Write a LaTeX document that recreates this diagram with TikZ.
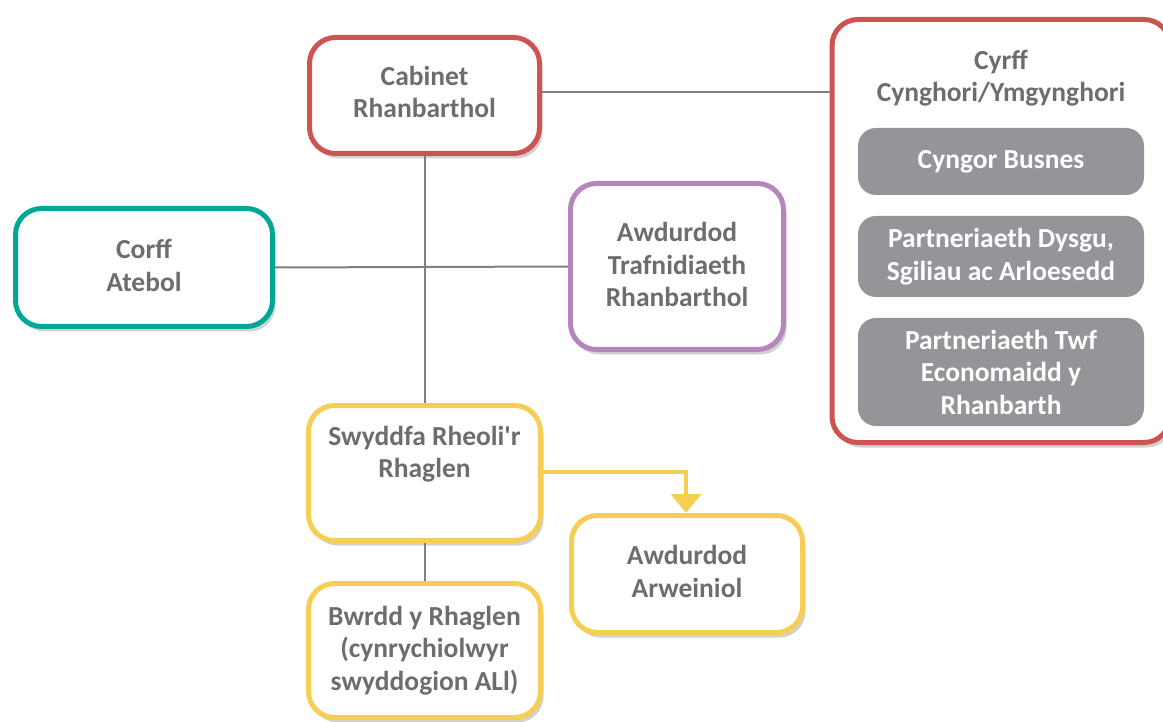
\documentclass[tikz,border=0pt]{standalone}
\usepackage{fontspec}
\setmainfont{Carlito}
\usetikzlibrary{arrows.meta,shadows}
\definecolor{org_red}{RGB}{205, 84, 80}
\definecolor{org_teal}{RGB}{0, 166, 152}
\definecolor{org_purple}{RGB}{180, 134, 188}
\definecolor{org_yellow}{RGB}{246, 206, 84}
\definecolor{org_grey}{RGB}{148, 149, 153}
\definecolor{org_text}{RGB}{108, 109, 112}
\definecolor{org_line}{RGB}{128, 128, 130}
\tikzstyle{box}=[rectangle,rounded corners=26pt,fill=white,line width=5pt,
  text=org_text,font=\fontsize{27.5}{32.5}\selectfont\bfseries,align=center,
  drop shadow={shadow xshift=3pt,shadow yshift=-5pt,opacity=0.18,fill=black}]
\tikzstyle{rbox}=[box,draw=org_red]
\tikzstyle{tbox}=[box,draw=org_teal]
\tikzstyle{pbox}=[box,draw=org_purple]
\tikzstyle{ybox}=[box,draw=org_yellow]
\tikzstyle{gbox}=[rectangle,rounded corners=18pt,fill=org_grey,text=white,
  font=\fontsize{27.5}{32.5}\selectfont\bfseries,align=center,minimum width=286pt]
\tikzstyle{txt}=[text=org_text,font=\fontsize{27.5}{32.5}\selectfont\bfseries,align=center]
\tikzstyle{conn}=[draw=org_line,line width=2pt]

\begin{document}
\begin{tikzpicture}[x=1pt, y=-1pt]
    \useasboundingbox (0, 0) rectangle (1163, 722);
    \node [style=rbox, minimum width=230pt, minimum height=116pt] (cab) at (424.5, 95.5) {};
    \node [style=txt] (cabtxt) at (424.5, 92) {Cabinet\\Rhanbarthol};
    \node [style=rbox, minimum width=338pt, minimum height=423pt] (cyrff) at (1001, 231) {};
    \node [style=txt] (cyrfftitle) at (1001, 78) {Cyrff\\Cynghori/Ymgynghori};
    \node [style=gbox, minimum height=67pt] (busnes) at (1001, 161.5) {Cyngor Busnes};
    \node [style=gbox, minimum height=81pt] (dysgu) at (1001, 256.5) {Partneriaeth Dysgu,\\Sgiliau ac Arloesedd};
    \node [style=gbox, minimum height=108pt] (twf) at (1001, 372) {Partneriaeth Twf\\Economaidd y\\Rhanbarth};
    \node [style=tbox, minimum width=257pt, minimum height=118pt] (corff) at (144, 267.5) {};
    \node [style=txt] (corfftxt) at (144, 265.5) {Corff\\Atebol};
    \node [style=pbox, minimum width=213pt, minimum height=166pt] (trafn) at (677, 266.5) {};
    \node [style=txt] (trafntxt) at (677, 264.5) {Awdurdod\\Trafnidiaeth\\Rhanbarthol};
    \node [style=ybox, minimum width=232pt, minimum height=135pt] (swyddfa) at (424.5, 473) {};
    \node [style=txt] (swyddfatxt) at (424.5, 454) {Swyddfa Rheoli\textquotesingle r\\Rhaglen};
    \node [style=ybox, minimum width=231pt, minimum height=117pt] (arweiniol) at (687, 574) {};
    \node [style=txt] (arweinioltxt) at (687, 571.5) {Awdurdod\\Arweiniol};
    \node [style=ybox, minimum width=232pt, minimum height=134pt] (bwrdd) at (424.5, 650.5) {Bwrdd y Rhaglen\\(cynrychiolwyr\\swyddogion ALl)};
    \coordinate (bend) at (686, 472);
    \draw [style=conn] (cab.east |- 0, 92) to (cyrff.west |- 0, 92);
    \draw [style=conn] (cab.south) to (swyddfa.north);
    \draw [style=conn] (corff.east) to (trafn.west);
    \draw [style=conn] (swyddfa.south) to (bwrdd.north);
    \draw [draw=org_yellow, line width=4pt, -{Triangle[width=30pt,length=19pt]}]
      (swyddfa.east |- bend) to (bend) to (arweiniol.north -| bend);
\end{tikzpicture}
\end{document}
